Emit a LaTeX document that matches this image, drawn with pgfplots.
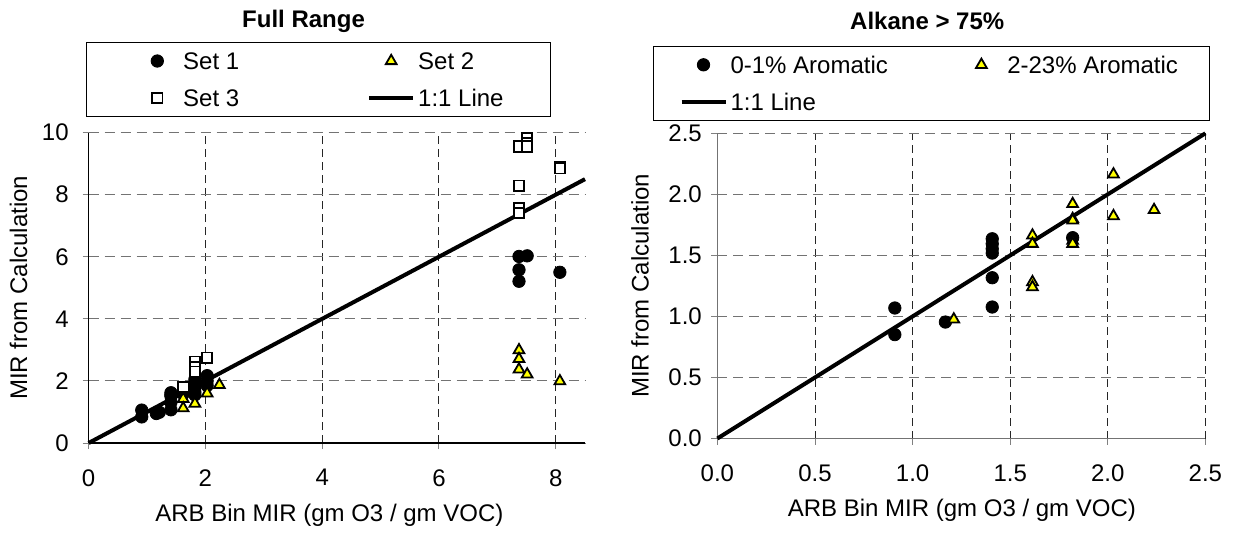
\documentclass[border=0pt]{standalone}
\usepackage{fontspec}
\setmainfont{Liberation Sans}
\usepackage{pgfplots}
\pgfplotsset{compat=1.18}
\definecolor{myyellow}{RGB}{255,255,0}
\newcommand{\lt}[2]{\hspace*{1.5pt}\makebox[#1][l]{\rule[-4.95pt]{0pt}{18.5pt}#2}}
\pgfplotsset{
  mystyle/.style={
    scale only axis,
    axis lines=left,
    axis line style={-, line width=0.6pt},
    tick align=outside,
    major tick length=3pt,
    tick style={line width=0.5pt},
    grid=major,
    x grid style={dash pattern=on 4pt off 2.5pt, line width=0.5pt, black!85},
    y grid style={dash pattern=on 5pt off 3pt, line width=0.5pt, black!55},
    /pgf/number format/assume math mode=true,
    legend columns=2,
    legend cell align=left,
    legend image code/.code={\path (0pt,0pt) (22pt,0pt);
      \draw[mark repeat=2,mark phase=2,##1] plot coordinates {(0pt,0pt) (11pt,0pt) (22pt,0pt)};},
    title style={font=\fontsize{12}{14.4}\selectfont\bfseries, anchor=center},
    clip=false,
  },
  set1/.style={only marks, mark=*, mark size=3.1pt, black},
  set2/.style={only marks, mark=triangle*, mark size=3.1pt, draw=black, fill=myyellow, line width=0.9pt},
  set3/.style={only marks, mark=square*, mark size=2.6pt, draw=black, fill=white, line width=0.9pt},
  oneline/.style={black, line width=2pt, no marks},
}
\begin{document}
\fontsize{12}{14.4}\selectfont
\begin{tikzpicture}
\useasboundingbox (0,0) rectangle (616.5pt,269pt);
% ---------------- Full Range ----------------
\begin{axis}[mystyle,
  at={(44.3pt,47.5pt)}, anchor=south west,
  width=248.2pt, height=155.2pt,
  xmin=0, xmax=8.5, ymin=0, ymax=10,
  xtick={0,2,4,6,8}, ytick={0,2,4,6,8,10},
  xticklabel style={yshift=-6pt},
  yticklabel style={xshift=-2.8pt},
  title={Full Range},
  title style={at={([yshift=49.6pt]axis description cs:0.433,1)}},
  xlabel={ARB Bin MIR (gm O3 / gm VOC)},
  xlabel style={at={([yshift=-36pt]axis description cs:0.485,0)}, anchor=center},
  ylabel={MIR from Calculation},
  ylabel style={at={([xshift=-35pt]axis description cs:0,0.5)}, anchor=center},
  legend style={at={([xshift=-1.55pt,yshift=7.85pt]axis description cs:0,1)}, anchor=south west,
    draw=black, fill=white, inner xsep=24.25pt, inner ysep=0pt,
    nodes={inner sep=0pt, text depth=4.95pt}},
]
\addplot[set1] coordinates {
 (0.91,1.06) (0.91,0.84) (1.16,0.95) (1.21,0.99)
 (1.41,1.62) (1.41,1.55) (1.41,1.51) (1.41,1.31) (1.41,1.07)
 (1.62,1.66) (1.62,1.58)
 (1.82,2.05) (1.82,1.90) (1.82,1.78) (1.82,1.64) (1.82,1.55)
 (2.03,2.17) (2.03,2.00) (2.03,1.85)
 (7.37,6.01) (7.51,6.03) (7.37,5.58) (7.37,5.21) (8.07,5.50)
};
\addlegendentry{\lt{92pt}{Set 1}}
\addplot[set2] coordinates {
 (1.62,1.42) (1.62,1.12) (1.82,1.27) (2.03,1.60) (2.24,1.87)
 (7.37,2.99) (7.37,2.71) (7.37,2.37) (7.51,2.21) (8.07,1.99)
};
\addlegendentry{\lt{42pt}{Set 2}}
\addplot[set3] coordinates {
 (1.62,1.80) (1.82,2.62) (1.82,2.45) (1.82,2.30) (2.03,2.75)
 (7.37,9.55) (7.51,9.82) (7.51,9.66) (7.51,9.55)
 (8.07,8.885) (8.07,8.85) (7.37,8.29) (7.37,7.57) (7.37,7.41)
};
\addlegendentry{\lt{92pt}{Set 3}}
\addplot[oneline] coordinates {(0,0) (8.5,8.5)};
\addlegendentry{\lt{42pt}{1:1 Line}}
\end{axis}
% ---------------- Alkane > 75% ----------------
\begin{axis}[mystyle,
  at={(358.7pt,49.75pt)}, anchor=south west,
  width=244pt, height=152.6pt,
  xmin=0, xmax=2.5, ymin=0, ymax=2.5,
  xtick={0,0.5,1,1.5,2,2.5}, ytick={0,0.5,1,1.5,2,2.5},
  axis line style={-, line width=0.6pt, black!55},
  xticklabel style={yshift=-6pt, /pgf/number format/.cd, fixed, fixed zerofill, precision=1},
  yticklabel style={xshift=-0.6pt, /pgf/number format/.cd, fixed, fixed zerofill, precision=1},
  title={Alkane > 75\%},
  title style={at={([yshift=50.3pt]axis description cs:0.43,1)}},
  xlabel={ARB Bin MIR (gm O3 / gm VOC)},
  xlabel style={at={([yshift=-36pt]axis description cs:0.501,0)}, anchor=center},
  ylabel={MIR from Calculation},
  ylabel style={at={([xshift=-38.7pt]axis description cs:0,0.5)}, anchor=center},
  legend style={at={([xshift=-32.15pt,yshift=6.3pt]axis description cs:0,1)}, anchor=south west,
    draw=black, fill=white, inner xsep=13pt, inner ysep=0pt,
    nodes={inner sep=0pt, text depth=4.95pt}},
]
\addplot[set1] coordinates {
 (0.909,1.069) (0.909,0.851) (1.168,0.954)
 (1.408,1.636) (1.408,1.595) (1.408,1.554) (1.408,1.519) (1.408,1.317) (1.408,1.077)
 (1.82,1.645)
};
\addlegendentry{\lt{114pt}{0-1\% Aromatic}}
\addplot[set2] coordinates {
 (1.211,0.976) (1.614,1.663) (1.614,1.595) (1.614,1.281) (1.614,1.240)
 (1.82,1.921) (1.82,1.799) (1.82,1.786) (1.82,1.620) (1.82,1.595)
 (2.029,2.164) (2.029,1.822) (2.237,1.872)
};
\addlegendentry{\lt{88pt}{2-23\% Aromatic}}
\addplot[oneline] coordinates {(0,0) (2.5,2.5)};
\addlegendentry{\lt{114pt}{1:1 Line}}
\end{axis}
\end{tikzpicture}
\end{document}
